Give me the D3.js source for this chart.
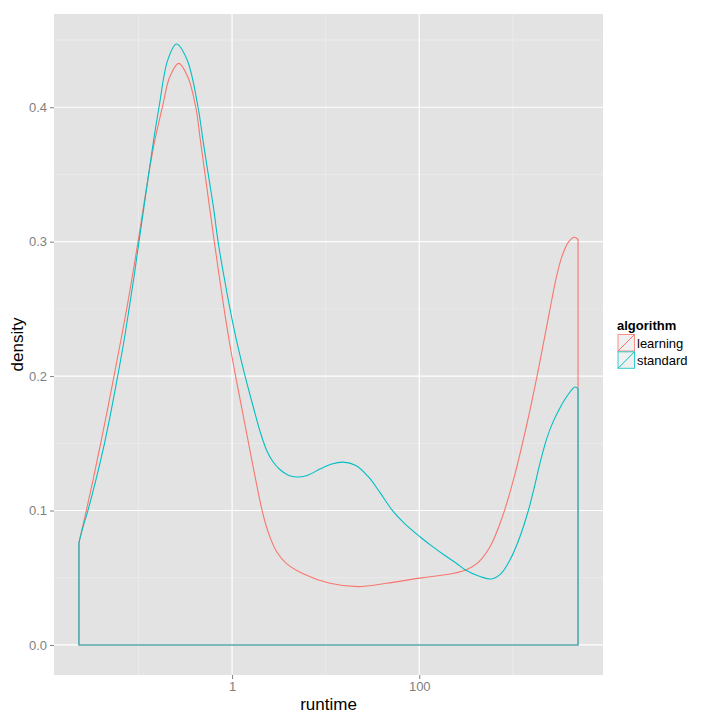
<!DOCTYPE html>
<html><head><meta charset="utf-8">
<script src="https://cdn.jsdelivr.net/npm/d3@7"></script>
<style>body{margin:0;background:#fff}svg{display:block}text{font-family:"Liberation Sans",Arial,Helvetica,sans-serif}</style>
</head><body>
<script>
const runtimeLearning = [0.0231,0.0277,0.0332,0.0394,0.0466,0.0547,0.0641,0.0748,0.0863,0.0989,0.1125,0.1285,0.1489,0.180,0.216,0.269,0.336,0.409,0.4592,0.5143,0.5759,0.6451,0.7261,0.8213,0.938,1.090,1.279,1.501,1.762,2.094,2.457,2.985,3.819,5.741,11.09,22.28,44.77,101.4,166.5,240.9,315.5,424.5,570.3,766.4,1030,1384,1815,2500,2897,3334,3926,4550,4977];
const densityLearning = [0.0762,0.100,0.125,0.150,0.175,0.200,0.225,0.250,0.275,0.300,0.325,0.350,0.375,0.400,0.4227,0.4326,0.4227,0.400,0.375,0.350,0.325,0.300,0.275,0.250,0.225,0.200,0.175,0.150,0.125,0.100,0.083,0.0695,0.0605,0.0530,0.0459,0.0434,0.0459,0.0497,0.0517,0.0535,0.0557,0.0612,0.0730,0.0945,0.1245,0.1615,0.200,0.250,0.2725,0.2887,0.2997,0.3033,0.3016];
const runtimeStandard = [0.0231,0.0256,0.0288,0.0357,0.0433,0.0513,0.0599,0.0695,0.0793,0.0900,0.1012,0.1139,0.1282,0.1447,0.1656,0.2052,0.2542,0.3318,0.4329,0.4896,0.5566,0.6341,0.7083,0.8151,0.9495,1.128,1.377,1.686,2.028,2.350,2.725,3.237,3.941,4.885,6.451,8.670,11.65,15.39,21.04,28.27,37.99,51.05,70.31,101.7,136.7,188.3,246.9,315.9,445.9,594.8,747.7,933.3,1194,1465,1686,1954,2305,2712,3198,3772,4627,4977];
const densityStandard = [0.0762,0.088,0.100,0.125,0.150,0.175,0.200,0.225,0.250,0.275,0.300,0.325,0.350,0.375,0.400,0.435,0.447,0.435,0.400,0.375,0.350,0.325,0.300,0.275,0.250,0.225,0.200,0.177,0.157,0.1445,0.1365,0.1305,0.1265,0.1249,0.1263,0.1308,0.1346,0.136,0.1335,0.1255,0.1135,0.1005,0.0900,0.0805,0.0735,0.0665,0.0610,0.0555,0.0509,0.0491,0.0530,0.0633,0.0807,0.100,0.1165,0.1355,0.1535,0.1665,0.1765,0.1848,0.1919,0.1906];
const algorithms = ["learning","standard"];
const colors = ["#F8766D","#00BFC4"];
const xMajor = [1,100];
const xMinor = [0.1,10,1000];
const yMajor = [0,0.1,0.2,0.3,0.4];
const yMinor = [0.05,0.15,0.25,0.35,0.45];

const W=720,H=720;
const svg=d3.select("body").append("svg").attr("width",W).attr("height",H);
const P={l:54,r:603,t:14,b:675};

const series=[
 {name:algorithms[0],color:colors[0],pts:runtimeLearning.map((r,i)=>[r,densityLearning[i]])},
 {name:algorithms[1],color:colors[1],pts:runtimeStandard.map((r,i)=>[r,densityStandard[i]])}
];
const allR=runtimeLearning.concat(runtimeStandard);
const lmin=Math.log10(d3.min(allR)),lmax=Math.log10(d3.max(allR));
const lex=(lmax-lmin)*0.05;
const x=d3.scaleLog().domain([Math.pow(10,lmin-lex),Math.pow(10,lmax+lex)]).range([P.l,P.r]);
const dmax=d3.max(densityLearning.concat(densityStandard));
const y=d3.scaleLinear().domain([-dmax*0.05,dmax*1.05]).range([P.b,P.t]);

svg.append("rect").attr("x",P.l).attr("y",P.t).attr("width",P.r-P.l).attr("height",P.b-P.t).attr("fill","#E3E3E3");
const g=svg.append("g");
g.selectAll(".xmin").data(xMinor).join("line").attr("x1",d=>x(d)).attr("x2",d=>x(d)).attr("y1",P.t).attr("y2",P.b).attr("stroke","#EEEEEE").attr("stroke-width",0.7);
g.selectAll(".ymin").data(yMinor.filter(v=>y(v)>P.t)).join("line").attr("y1",d=>y(d)).attr("y2",d=>y(d)).attr("x1",P.l).attr("x2",P.r).attr("stroke","#EEEEEE").attr("stroke-width",0.7);
g.selectAll(".xmaj").data(xMajor).join("line").attr("x1",d=>x(d)).attr("x2",d=>x(d)).attr("y1",P.t).attr("y2",P.b).attr("stroke","#fff").attr("stroke-width",1.2);
g.selectAll(".ymaj").data(yMajor).join("line").attr("y1",d=>y(d)).attr("y2",d=>y(d)).attr("x1",P.l).attr("x2",P.r).attr("stroke","#fff").attr("stroke-width",1.2);

const line=d3.line().x(d=>x(d[0])).y(d=>y(d[1])).curve(d3.curveCatmullRom.alpha(0.5));
series.forEach(s=>{
  const p=s.pts, f=p[0], l=p[p.length-1];
  const d=`M${x(f[0])},${y(0)}`+line(p).replace(/^M/,"L")+`L${x(l[0])},${y(0)}Z`;
  svg.append("path").attr("d",d).attr("fill","none").attr("stroke",s.color).attr("stroke-width",1.1);
});

// axes
const xa=svg.append("g").attr("transform",`translate(0,${P.b})`).call(d3.axisBottom(x).tickValues(xMajor).tickFormat(d3.format("d")).tickSize(4).tickPadding(3));
const ya=svg.append("g").attr("transform",`translate(${P.l},0)`).call(d3.axisLeft(y).tickValues(yMajor).tickFormat(d3.format(".1f")).tickSize(4).tickPadding(3));
[xa,ya].forEach(a=>{a.select(".domain").remove();a.selectAll("line").attr("stroke","#7F7F7F");a.selectAll("text").attr("fill","#7F7F7F").style("font-size","13px");});

svg.append("text").attr("x",(P.l+P.r)/2).attr("y",710).attr("text-anchor","middle").style("font-size","17px").attr("fill","#000").text("runtime");
svg.append("text").attr("transform",`translate(23,${(P.t+P.b)/2}) rotate(-90)`).attr("text-anchor","middle").style("font-size","17px").attr("fill","#000").text("density");

// legend
const lg=svg.append("g");
lg.append("text").attr("x",617).attr("y",330).style("font-size","13px").style("font-weight","bold").text("algorithm");
series.forEach((s,i)=>{
  const ky=334.5+i*17.3;
  lg.append("rect").attr("x",618).attr("y",ky).attr("width",16.5).attr("height",16.5).attr("fill","#F0F0F0").attr("stroke",s.color).attr("stroke-width",1).attr("stroke-opacity",0.8);
  lg.append("line").attr("x1",618).attr("y1",ky+16.5).attr("x2",634.5).attr("y2",ky).attr("stroke",s.color).attr("stroke-width",1);
  lg.append("text").attr("x",637).attr("y",ky+13).style("font-size","13px").text(s.name);
});
</script>
</body></html>
